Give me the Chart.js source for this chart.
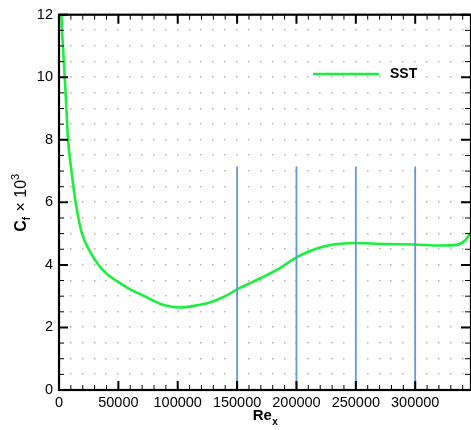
<!DOCTYPE html>
<html>
<head>
<meta charset="utf-8">
<script src="https://cdn.jsdelivr.net/npm/chart.js@4/dist/chart.umd.min.js"></script>
<style>
  html, body { margin: 0; padding: 0; background: #fff; }
  canvas { display: block; }
</style>
</head>
<body>
<canvas id="myChart" width="471" height="430"></canvas>
<script>
// values
const reX = [1500, 2000, 3300, 4800, 6200, 7600, 10500, 14000, 19000, 26000, 33000, 40000, 50000, 60000,
    72000, 85000, 95000, 102000, 115000, 127000, 140000, 150000, 160000, 170000, 186000, 200000,
    210000, 220000, 231000, 249000, 273000, 300000, 321000, 335000, 342000, 346500];
const cfSST = [13.0, 12.0, 11.0, 10.0, 9.0, 8.0, 7.0, 6.0, 5.05, 4.43, 4.01, 3.72, 3.45, 3.22,
    3.0, 2.76, 2.66, 2.64, 2.70, 2.80, 3.0, 3.22, 3.40, 3.58, 3.90, 4.24,
    4.42, 4.56, 4.65, 4.70, 4.67, 4.65, 4.62, 4.64, 4.78, 5.02];
const markerRe = [150000, 200000, 250000, 300000];
const markerTop = 7.15;
const seriesName = 'SST';
const xTicks = [0, 50000, 100000, 150000, 200000, 250000, 300000];
const yTicks = [0, 2, 4, 6, 8, 10, 12];

const FONT = '"Liberation Sans", Arial, Helvetica, sans-serif';
const green = '#18f03c';
const blue = '#5f9bd8';

const ctx = document.getElementById('myChart');

function buildDatasets() {
    // blue markers first so they end up on top of the curve
    const lines = markerRe.map(m => ({
        label: 'marker ' + m,
        data: [{x: m, y: 0}, {x: m, y: markerTop}],
        borderColor: blue,
        borderWidth: 1.8,
        pointRadius: 0,
    }));
    lines.push({
        label: seriesName,
        data: reX.map((x, i) => ({x: x, y: cfSST[i]})),
        borderColor: green,
        borderWidth: 2.6,
        pointRadius: 0,
        cubicInterpolationMode: 'monotone',
    });
    return lines;
}

// dotted grid, box with inward ticks, axis titles and legend
const frame = {
    id: 'frame',
    beforeDatasetsDraw(chart) {
        const c = chart.ctx, xs = chart.scales.x, ys = chart.scales.y;
        c.save();
        c.fillStyle = '#b4b4b4';
        for (let v = 10000; v <= xs.max; v += 10000) {
            const px = xs.getPixelForValue(v);
            for (let w = 0.5; w < ys.max; w += 0.5) {
                const py = ys.getPixelForValue(w);
                c.fillRect(Math.round(px) - 1, Math.round(py) - 1, 1.5, 1.5);
            }
        }
        c.restore();
    },
    afterDatasetsDraw(chart) {
        const c = chart.ctx, a = chart.chartArea, xs = chart.scales.x, ys = chart.scales.y;
        c.save();
        c.strokeStyle = '#000';

        // ticks
        for (let v = 0; v <= xs.max; v += 10000) {
            const px = xs.getPixelForValue(v);
            const major = v % 50000 === 0;
            const len = major ? 9 : 5;
            c.lineWidth = major ? 2 : 1;
            c.beginPath();
            c.moveTo(px, a.bottom); c.lineTo(px, a.bottom - len);
            c.moveTo(px, a.top); c.lineTo(px, a.top + len);
            c.stroke();
        }
        for (let w = 0; w <= ys.max; w += 0.5) {
            const py = ys.getPixelForValue(w);
            const major = w % 2 === 0;
            const len = major ? 9 : 5;
            c.lineWidth = major ? 2 : 1;
            c.beginPath();
            c.moveTo(a.left, py); c.lineTo(a.left + len, py);
            c.moveTo(a.right - 1, py); c.lineTo(a.right - 1 - len, py);
            c.stroke();
        }

        // box
        c.lineWidth = 2.2;
        c.strokeRect(a.left, a.top, a.right - a.left, a.bottom - a.top);

        c.fillStyle = '#000';
        c.textBaseline = 'alphabetic';

        // x title: Re_x
        c.font = 'bold 15px ' + FONT;
        const wRe = c.measureText('Re').width;
        c.font = 'bold 10px ' + FONT;
        const wx = c.measureText('x').width;
        let tx = (a.left + a.right) / 2 - (wRe + wx) / 2;
        c.font = 'bold 15px ' + FONT;
        c.textAlign = 'left';
        c.fillText('Re', tx, 420);
        c.font = 'bold 10px ' + FONT;
        c.fillText('x', tx + wRe + 0.5, 425);

        // y title: C_f x 10^3, rotated
        const parts = [
            {t: 'C', f: 'bold 16px ', dy: 0},
            {t: 'f', f: 'bold 10px ', dy: 4},
            {t: ' \u00d7 10', f: '16px ', dy: 0},
            {t: '3', f: '11px ', dy: -7},
        ];
        let total = 0;
        parts.forEach(p => { c.font = p.f + FONT; p.w = c.measureText(p.t).width; total += p.w; });
        c.translate(26, (a.top + a.bottom) / 2 + 1);
        c.rotate(-Math.PI / 2);
        let cx = -total / 2;
        parts.forEach(p => {
            c.font = p.f + FONT;
            c.fillText(p.t, cx, p.dy);
            cx += p.w + (p.t === 'f' ? 1 : 0);
        });
        c.setTransform(1, 0, 0, 1, 0, 0);

        // legend
        c.strokeStyle = green;
        c.lineWidth = 2.6;
        c.beginPath();
        c.moveTo(313, 74); c.lineTo(379, 74);
        c.stroke();
        c.font = 'bold 14px ' + FONT;
        c.textBaseline = 'middle';
        c.fillText(seriesName, 390, 74.5);
        c.restore();
    }
};

const chart = new Chart(ctx, {
    type: 'line',
    plugins: [frame],
    data: {datasets: buildDatasets()},
    options: {
        responsive: false,
        animation: false,
        devicePixelRatio: 1,
        layout: {padding: {top: 11, right: 0, left: 0, bottom: 0}},
        plugins: {
            legend: {display: false},
            tooltip: {enabled: false},
        },
        scales: {
            x: {
                type: 'linear',
                min: 0,
                max: 347000,
                grid: {display: false, drawTicks: false},
                border: {display: false},
                afterBuildTicks(s) { s.ticks = xTicks.map(v => ({value: v})); },
                ticks: {
                    autoSkip: false,
                    maxRotation: 0,
                    padding: 4,
                    color: '#000',
                    font: {family: FONT, size: 14.5},
                    callback: v => String(v),
                },
                afterFit(s) { s.height = 40; },
            },
            y: {
                min: 0,
                max: 12,
                grid: {display: false, drawTicks: false},
                border: {display: false},
                afterBuildTicks(s) { s.ticks = yTicks.map(v => ({value: v})); },
                ticks: {
                    padding: 6,
                    color: '#000',
                    font: {family: FONT, size: 14.5},
                },
                afterFit(s) { s.width = 59; },
            },
        },
    },
});
</script>
</body>
</html>
